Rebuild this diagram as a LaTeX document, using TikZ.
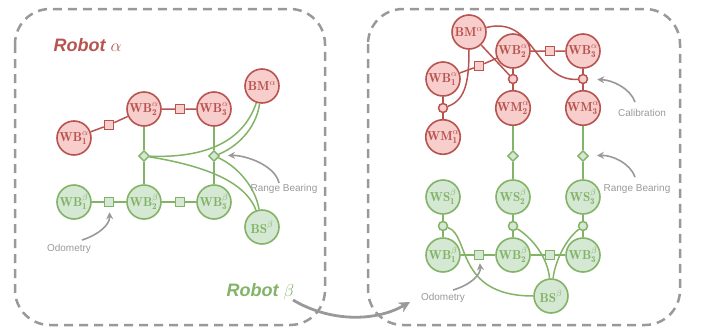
\documentclass[tikz,border=0pt]{standalone}
\usepackage{fontspec}
\newfontfamily\lsans{Liberation Sans}
\usetikzlibrary{shapes.geometric,arrows.meta}
\pgfdeclarelayer{bg}
\pgfsetlayers{bg,main}
\definecolor{rfill}{HTML}{F8CECC}
\definecolor{rdraw}{HTML}{B85450}
\definecolor{gfill}{HTML}{D5E8D4}
\definecolor{gdraw}{HTML}{82B366}
\definecolor{gr}{HTML}{999999}
\begin{document}
\begin{tikzpicture}[x=1pt,y=-1pt,
 rnode/.style={circle,draw=rdraw,fill=rfill,text=rdraw,line width=1.6pt,minimum size=34pt,inner sep=0pt,font=\fontsize{13}{15}\selectfont},
 gnode/.style={rnode,draw=gdraw,fill=gfill,text=gdraw},
 rsq/.style={rectangle,draw=rdraw,fill=rfill,line width=1.5pt,minimum size=9pt,inner sep=0pt},
 gsq/.style={rsq,draw=gdraw,fill=gfill},
 gdia/.style={diamond,draw=gdraw,fill=gfill,line width=1.4pt,minimum size=11pt,inner sep=0pt},
 rdot/.style={circle,draw=rdraw,fill=rfill,line width=1.5pt,minimum size=9pt,inner sep=0pt},
 gdot/.style={rdot,draw=gdraw,fill=gfill},
 redge/.style={draw=rdraw,line width=1.5pt},
 gedge/.style={draw=gdraw,line width=1.5pt},
 note/.style={text=gr,font=\lsans\fontsize{10}{12}\selectfont},
 notearrow/.style={draw=gr,line width=1.6pt,-{Stealth[length=7pt,width=7pt]}},
 bigarrow/.style={draw=gr,line width=2.8pt,-{Stealth[length=11pt,width=11pt]}},
 panel/.style={draw=gr,line width=2.5pt,dash pattern=on 9pt off 6pt,rounded corners=35pt},
 titletext/.style={font=\lsans\bfseries\itshape\fontsize{18}{20}\selectfont}
]
\useasboundingbox (0,0) rectangle (702,335);

% ---------- left panel nodes ----------
\node[titletext,text=rdraw,anchor=base west] (ta) at (50,51) {Robot $\alpha$};
\node[titletext,text=gdraw,anchor=base west] (tb) at (223,296) {Robot $\beta$};

\node[rnode] (WBa1l) at (74,138) {$\mathbf{WB}^{\alpha}_{\mathbf{1}}$};
\node[rnode] (WBa2l) at (144,109) {$\mathbf{WB}^{\alpha}_{\mathbf{2}}$};
\node[rnode] (WBa3l) at (214,109) {$\mathbf{WB}^{\alpha}_{\mathbf{3}}$};
\node[rnode] (BMl) at (262,86) {$\mathbf{BM}^{\alpha}$};
\node[rsq] (s1l) at (109,125) {};
\node[rsq] (s2l) at (180,109) {};
\node[gdia] (d1l) at (144,156) {};
\node[gdia] (d2l) at (214,156) {};
\node[gnode] (WBb1l) at (74,202) {$\mathbf{WB}^{\beta}_{\mathbf{1}}$};
\node[gnode] (WBb2l) at (144,202) {$\mathbf{WB}^{\beta}_{\mathbf{2}}$};
\node[gnode] (WBb3l) at (214,202) {$\mathbf{WB}^{\beta}_{\mathbf{3}}$};
\node[gnode] (BSl) at (262,227) {$\mathbf{BS}^{\beta}$};
\node[gsq] (s3l) at (109,202) {};
\node[gsq] (s4l) at (180,202) {};

\node[note] (rbl) at (284,189) {Range Bearing};
\node[note] (odl) at (69,249) {Odometry};
\coordinate (rbls) at (279,183);
\coordinate (odls) at (82,240);

% ---------- right panel nodes ----------
\node[rnode] (BMr) at (469,32) {$\mathbf{BM}^{\alpha}$};
\node[rnode] (WBa1r) at (443,79) {$\mathbf{WB}^{\alpha}_{\mathbf{1}}$};
\node[rnode] (WBa2r) at (513,51) {$\mathbf{WB}^{\alpha}_{\mathbf{2}}$};
\node[rnode] (WBa3r) at (583,51) {$\mathbf{WB}^{\alpha}_{\mathbf{3}}$};
\node[rnode] (WM1r) at (443,137) {$\mathbf{WM}^{\alpha}_{\mathbf{1}}$};
\node[rnode] (WM2r) at (513,108) {$\mathbf{WM}^{\alpha}_{\mathbf{2}}$};
\node[rnode] (WM3r) at (583,108) {$\mathbf{WM}^{\alpha}_{\mathbf{3}}$};
\node[rsq] (s1r) at (479,66) {};
\node[rsq] (s2r) at (550,51) {};
\node[rdot] (c1r) at (443,108) {};
\node[rdot] (c2r) at (513,79) {};
\node[rdot] (c3r) at (583,79) {};
\node[gdia] (d1r) at (513,156) {};
\node[gdia] (d2r) at (583,156) {};
\node[gnode] (WS1r) at (443,197) {$\mathbf{WS}^{\beta}_{\mathbf{1}}$};
\node[gnode] (WS2r) at (513,197) {$\mathbf{WS}^{\beta}_{\mathbf{2}}$};
\node[gnode] (WS3r) at (583,197) {$\mathbf{WS}^{\beta}_{\mathbf{3}}$};
\node[gdot] (g1r) at (443,226) {};
\node[gdot] (g2r) at (513,226) {};
\node[gdot] (g3r) at (583,226) {};
\node[gnode] (WBb1r) at (443,255) {$\mathbf{WB}^{\beta}_{\mathbf{1}}$};
\node[gnode] (WBb2r) at (513,255) {$\mathbf{WB}^{\beta}_{\mathbf{2}}$};
\node[gnode] (WBb3r) at (583,255) {$\mathbf{WB}^{\beta}_{\mathbf{3}}$};
\node[gsq] (s3r) at (479,255) {};
\node[gsq] (s4r) at (550,255) {};
\node[gnode] (BSr) at (551,296) {$\mathbf{BS}^{\beta}$};

\node[note] (calr) at (642,113) {Calibration};
\node[note] (rbr) at (637,189) {Range Bearing};
\node[note] (odr) at (443,298) {Odometry};
\coordinate (cals) at (635,102);
\coordinate (rbrs) at (635,177);
\coordinate (odrs) at (453,290);

\coordinate (bas) at (293,300);
\coordinate (bae) at (410,302);

\begin{pgfonlayer}{bg}
\draw[panel] (15,9) rectangle (325,325);
\draw[panel] (368,9) rectangle (680,325);

% left edges
\draw[redge] (WBa1l) -- (s1l) -- (WBa2l) -- (s2l) -- (WBa3l);
\draw[gedge] (WBa2l) -- (d1l) -- (WBb2l);
\draw[gedge] (WBa3l) -- (d2l) -- (WBb3l);
\draw[gedge] (WBb1l) -- (s3l) -- (WBb2l) -- (s4l) -- (WBb3l);
\draw[gedge] (BMl) .. controls (242,145) and (200,158) .. (d1l);
\draw[gedge] (BMl) .. controls (256,130) and (235,148) .. (d2l);
\draw[gedge] (d1l) .. controls (200,165) and (245,180) .. (BSl);
\draw[gedge] (d2l) .. controls (235,165) and (255,185) .. (BSl);

% right edges
\draw[redge] (WBa1r) -- (s1r) -- (WBa2r) -- (s2r) -- (WBa3r);
\draw[redge] (WBa1r) -- (c1r) -- (WM1r);
\draw[redge] (WBa2r) -- (c2r) -- (WM2r);
\draw[redge] (WBa3r) -- (c3r) -- (WM3r);
\draw[redge] (BMr) -- (c2r);
\draw[redge] (BMr) .. controls (469,80) and (466,100) .. (c1r);
\draw[redge] (BMr) .. controls (535,15) and (535,82) .. (c3r);
\draw[gedge] (WM2r) -- (d1r) -- (WS2r);
\draw[gedge] (WM3r) -- (d2r) -- (WS3r);
\draw[gedge] (WS1r) -- (g1r) -- (WBb1r);
\draw[gedge] (WS2r) -- (g2r) -- (WBb2r);
\draw[gedge] (WS3r) -- (g3r) -- (WBb3r);
\draw[gedge] (WBb1r) -- (s3r) -- (WBb2r) -- (s4r) -- (WBb3r);
\draw[gedge] (g1r) .. controls (470,235) and (455,296) .. (BSr);
\draw[gedge] (g2r) .. controls (535,240) and (548,260) .. (BSr);
\draw[gedge] (g3r) .. controls (565,240) and (555,262) .. (BSr);
\end{pgfonlayer}

% annotation arrows
\draw[notearrow,shorten >=8pt] (rbls) .. controls (275,165) and (245,155) .. (d2l);
\draw[notearrow,shorten >=5pt] (odls) .. controls (98,235) and (110,225) .. (s3l);
\draw[notearrow,shorten >=9pt] (cals) .. controls (630,88) and (612,80) .. (c3r);
\draw[notearrow,shorten >=8pt] (rbrs) .. controls (630,163) and (612,155) .. (d2r);
\draw[notearrow,shorten >=3pt] (odrs) .. controls (470,285) and (481,275) .. (s3r);

\draw[bigarrow] (bas) .. controls (330,322) and (375,322) .. (bae);
\end{tikzpicture}
\end{document}
